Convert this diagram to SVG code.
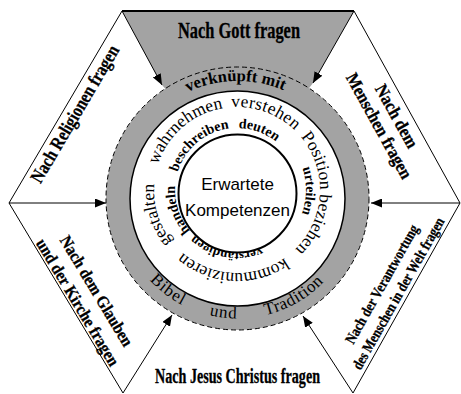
<svg xmlns="http://www.w3.org/2000/svg" width="461" height="394" viewBox="0 0 461 394">
<style>
.bold{font-weight:bold}
.side{font-family:"Liberation Serif","Times New Roman",serif;font-weight:bold;text-anchor:middle;fill:#000;stroke:#000;stroke-width:0.3}
.ring{font-family:"Liberation Serif","Times New Roman",serif;fill:#000;text-anchor:middle}
.line{stroke:#000;stroke-width:1;fill:none}
.arrow{stroke:#000;stroke-width:1;fill:none;marker-end:url(#ah)}
</style>
<defs>
<marker id="ah" markerUnits="userSpaceOnUse" markerWidth="11" markerHeight="9" refX="11" refY="4.5" orient="auto">
<path d="M0,0 L11,4.5 L0,9 z" fill="#000"/>
</marker>
<path id="cw83" d="M237,107 A83,83 0 1 1 237,273 A83,83 0 1 1 237,107 A83,83 0 1 1 237,273 A83,83 0 1 1 237,107"/>
<path id="cw62" d="M237,128 A62,62 0 1 1 237,252 A62,62 0 1 1 237,128 A62,62 0 1 1 237,252 A62,62 0 1 1 237,128"/>
<path id="cw67" d="M239,123 A67,67 0 1 1 239,257 A67,67 0 1 1 239,123 A67,67 0 1 1 239,257 A67,67 0 1 1 239,123"/>
<path id="cw118" d="M237.5,81 A117.5,117.5 0 1 1 237.5,316 A117.5,117.5 0 1 1 237.5,81 A117.5,117.5 0 1 1 237.5,316 A117.5,117.5 0 1 1 237.5,81"/>
<path id="ccw120" d="M237.5,78.5 A120,120 0 1 0 237.5,318.5 A120,120 0 1 0 237.5,78.5"/>
</defs>
<rect width="461" height="394" fill="#fff"/>

<g id="hexagon">
<polygon points="122,11 354,11 313,83 300,100 175,100 162,85" fill="#a3a3a3"/>
<line x1="122" y1="11" x2="354" y2="11" stroke="#000" stroke-width="2"/>
<polyline class="line" points="122,11 9,203 123,393"/>
<polyline class="line" points="354,11 460,203 353,393"/>
</g>

<g id="ring">
<circle cx="237.5" cy="198.5" r="131.5" fill="#a3a3a3" stroke="#000" stroke-width="1" stroke-dasharray="5,3"/>
<circle cx="237.5" cy="198.5" r="107.5" fill="#fff" stroke="#000" stroke-width="1.5"/>
<text class="ring bold" font-size="16.5"><textPath href="#cw118" startOffset="49.86%">verknüpft mit</textPath></text>
<text class="ring" font-size="17" letter-spacing="1"><textPath href="#ccw120" startOffset="39.7%">Bibel</textPath></text>
<text class="ring" font-size="17" letter-spacing="1"><textPath href="#ccw120" startOffset="48.1%">und</textPath></text>
<text class="ring" font-size="17" letter-spacing="0.6"><textPath href="#ccw120" startOffset="58.3%">Tradition</textPath></text>
</g>

<g id="kompetenzen-outer">
<text class="ring" font-size="17.5"><textPath href="#cw83" startOffset="44.3%">wahrnehmen</textPath></text>
<text class="ring" font-size="17.5" letter-spacing="0.3"><textPath href="#cw83" startOffset="52.8%">verstehen</textPath></text>
<text class="ring" font-size="17.5"><textPath href="#cw83" startOffset="62.9%">Position beziehen</textPath></text>
<text class="ring" font-size="17.5"><textPath href="#cw83" startOffset="75.4%">kommunizieren</textPath></text>
<text class="ring" font-size="17.5"><textPath href="#cw83" startOffset="85.1%">gestalten</textPath></text>
</g>

<g id="kompetenzen-inner">
<text class="ring bold" font-size="14"><textPath href="#cw62" startOffset="44.4%">beschreiben</textPath></text>
<text class="ring bold" font-size="14"><textPath href="#cw62" startOffset="52.8%">deuten</textPath></text>
<text class="ring bold" font-size="14"><textPath href="#cw67" startOffset="62.6%">urteilen</textPath></text>
<text class="ring bold" font-size="13"><textPath href="#cw62" startOffset="76.4%">verständigen</textPath></text>
<text class="ring bold" font-size="14"><textPath href="#cw62" startOffset="84.9%">handeln</textPath></text>
</g>

<g id="center">
<circle cx="237.5" cy="193.5" r="59" fill="#fff" stroke="#000" stroke-width="2"/>
<text x="237.5" y="190" font-family="'Liberation Sans',Arial,sans-serif" font-size="17" text-anchor="middle">Erwartete</text>
<text x="237.5" y="216" font-family="'Liberation Sans',Arial,sans-serif" font-size="17" text-anchor="middle">Kompetenzen</text>
</g>

<g id="n-gott"><text class="side" x="239" y="38" font-size="23" textLength="122" lengthAdjust="spacingAndGlyphs">Nach Gott fragen</text></g>
<g id="n-jesus"><text class="side" x="237.5" y="383" font-size="20" textLength="165" lengthAdjust="spacingAndGlyphs">Nach Jesus Christus fragen</text></g>
<g id="n-religionen" transform="translate(75,114) rotate(-59.5)"><text class="side" x="0" y="6" font-size="19" textLength="156" lengthAdjust="spacingAndGlyphs">Nach Religionen fragen</text></g>
<g id="n-menschen" transform="translate(388,121) rotate(61)">
<text class="side" x="0" y="-4" font-size="18" textLength="70" lengthAdjust="spacingAndGlyphs">Nach dem</text>
<text class="side" x="0" y="16" font-size="18" textLength="118" lengthAdjust="spacingAndGlyphs">Menschen fragen</text>
</g>
<g id="n-kirche" transform="translate(87.5,296.5) rotate(59)">
<text class="side" x="0" y="-5" font-size="17" textLength="126" lengthAdjust="spacingAndGlyphs">Nach dem Glauben</text>
<text class="side" x="0" y="17" font-size="17" textLength="145" lengthAdjust="spacingAndGlyphs">und der Kirche fragen</text>
</g>
<g id="n-welt" transform="translate(390.5,289) rotate(-60.6)">
<text class="side" x="0" y="-5" font-size="15" textLength="134" lengthAdjust="spacingAndGlyphs">Nach der Verantwortung</text>
<text class="side" x="0" y="14" font-size="15" textLength="172" lengthAdjust="spacingAndGlyphs">des Menschen in der Welt fragen</text>
</g>

<g id="connectors">
<line class="arrow" x1="122" y1="11" x2="162" y2="85"/>
<line class="arrow" x1="354" y1="11" x2="313" y2="83"/>
<line class="arrow" x1="9" y1="203" x2="106" y2="203"/>
<line class="arrow" x1="460" y1="203" x2="371" y2="203"/>
<line class="arrow" x1="123" y1="393" x2="172" y2="315"/>
<line class="arrow" x1="353" y1="393" x2="303" y2="316"/>
</g>
</svg>
